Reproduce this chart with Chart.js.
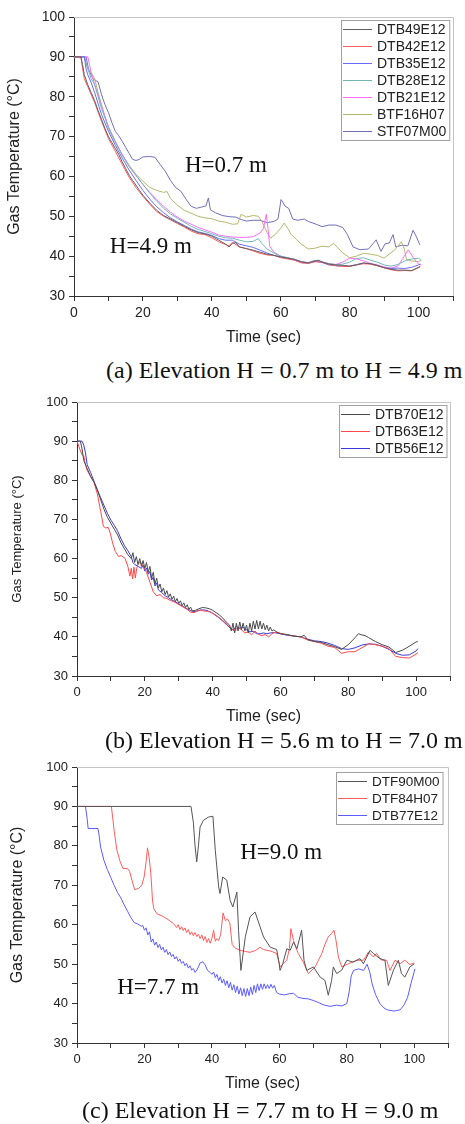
<!DOCTYPE html>
<html>
<head>
<meta charset="utf-8">
<script src="https://cdn.jsdelivr.net/npm/chart.js@4.4.0/dist/chart.umd.min.js"></script>
<style>
  html, body { margin: 0; padding: 0; background: #fff; overflow: hidden; }
  body { width: 465px; height: 1124px; position: relative; }
  canvas { position: absolute; left: 0; }
  .cap { position: absolute; font-family: "Liberation Serif", "Times New Roman", serif; font-size: 24px; line-height: 26px; color: #111; white-space: nowrap; z-index: 2; }
</style>
</head>
<body>
<canvas id="chartA" width="465" height="352" style="top:0px"></canvas>
<div class="cap" style="left:106px;top:357px">(a) Elevation H = 0.7 m to H = 4.9 m</div>
<canvas id="chartB" width="465" height="350" style="top:385px"></canvas>
<div class="cap" style="left:105px;top:727px">(b) Elevation H = 5.6 m to H = 7.0 m</div>
<canvas id="chartC" width="465" height="350" style="top:750px"></canvas>
<div class="cap" style="left:82px;top:1097px">(c) Elevation H = 7.7 m to H = 9.0 m</div>

<script>
// ---- panel (a): H = 0.7 m to 4.9 m  [time s, temperature C]
const labelsA = ["DTB49E12", "DTB42E12", "DTB35E12", "DTB28E12", "DTB21E12", "BTF16H07", "STF07M00"];
const dtb49 = [[0,90],[2,90],[2.5,88],[3,85.5],[4,83],[5,81],[6,79],[7,76.5],[8,74.3],[9,72],[10,70],[11,68.5],[12,67],[13,65.5],[14,63.6],[15,62],[16,60.3],[17,59],[18,57.8],[19,56.5],[20,55.3],[22,53.3],[24,51.5],[26,50.2],[28,49.3],[30,48.4],[32,47.5],[34,46.6],[36,45.9],[38,45.6],[40,45],[42,44],[44,43],[45,42.3],[46,43.2],[47,43.4],[48,42.3],[50,41.9],[52,41.5],[54,41],[56,40.5],[58,40.2],[60,39.8],[62,39.5],[64,39.2],[66,38.6],[68,38.3],[70,38.8],[71,39],[72,38.5],[74,38],[76,37.8],[78,37.7],[80,37.5],[82,37.8],[84,38.3],[86,38.1],[88,37.7],[90,37.1],[92,36.7],[94,36.5],[96,36.5],[98,36.4],[100,37.2],[100.5,37.4]];
const dtb42 = [[0,90],[2,90],[2.5,87],[3,84.5],[4,82.5],[5,80.5],[6,78.5],[8,73.8],[10,69.5],[12,66.3],[14,63],[16,59.8],[18,57.2],[20,55],[22,53],[24,51.2],[26,50],[28,49.1],[30,48.2],[32,47.3],[34,46.3],[36,45.6],[38,45.4],[40,44.6],[42,43.6],[44,42.9],[45,42.6],[46,43.5],[48,42.3],[50,41.9],[52,41.3],[54,40.7],[56,40.3],[58,40.2],[60,39.6],[62,39.3],[64,39],[66,38.3],[68,38.2],[70,38.6],[72,38.5],[74,37.9],[76,37.6],[78,37.4],[80,37.4],[82,37.8],[84,38.1],[86,38],[88,37.6],[90,37.1],[92,36.6],[94,36.3],[96,36.4],[98,36.3],[100,37.1],[100.5,37.3]];
const dtb35 = [[0,90],[3,90],[3.5,87],[4,85.5],[5,83.5],[6,81],[8,75.5],[10,71.3],[12,67.8],[14,64.6],[16,61.6],[18,59],[20,56.5],[22,54.3],[24,52.4],[26,50.9],[28,49.6],[30,48.6],[32,47.7],[34,46.8],[36,46.1],[38,45.7],[40,45.2],[42,44.4],[44,44],[46,44],[48,43],[50,42.6],[52,42.2],[54,41.5],[56,40.8],[58,40.2],[60,39.8],[62,39.4],[64,39],[66,38.4],[68,38.2],[70,38.7],[72,38.4],[74,37.8],[76,37.6],[78,37.5],[80,37.5],[82,37.9],[84,38.2],[86,38.1],[88,37.6],[90,37.1],[92,36.9],[94,37],[96,36.9],[98,37.2],[100,37.8],[100.5,38]];
const dtb28 = [[0,90],[3,90],[4,87],[5,84.5],[6,83],[7,80],[8,77],[10,72.3],[12,68.6],[14,65.3],[16,62.5],[18,60.3],[20,58],[22,55.8],[24,53.8],[26,52],[28,50.6],[30,49.5],[32,48.5],[34,47.5],[36,46.7],[38,46.2],[40,45.6],[42,45],[44,44.6],[46,44.5],[48,44],[50,43.6],[52,43.7],[53.5,44.4],[54.5,43.2],[56,41.8],[58,40.8],[60,40],[62,39.6],[64,39.2],[66,38.6],[68,38.3],[70,38.9],[72,38.6],[74,38.1],[76,37.9],[78,38],[80,38.5],[82,39.4],[84,39.6],[86,39],[88,38.5],[90,37.8],[92,37.5],[94,37.9],[96,38.8],[98,39.3],[100,39.5],[100.8,38.9]];
const dtb21 = [[0,90],[4,90],[4.5,88],[5,86],[6,83],[7,80.5],[8,77.5],[10,72.5],[12,68.8],[14,65.5],[16,62.6],[18,60.2],[20,58],[22,56],[24,54.2],[26,52.5],[28,51],[30,49.8],[32,48.8],[34,48],[36,47.2],[38,46.6],[40,46],[42,45.3],[44,45],[46,44.8],[48,44.7],[50,44.7],[52,44.9],[54,45.8],[55,47],[55.8,50.5],[56.3,47],[56.8,42.5],[58,41],[60,40],[62,39.6],[64,39.2],[66,38.6],[68,38.4],[70,38.9],[72,38.6],[74,38.1],[76,37.9],[78,38.5],[80,39.5],[82,39.3],[84,38.8],[86,38.2],[88,37.8],[90,37.3],[92,37],[94,37.5],[95.5,39.5],[97,41.6],[98.5,39.6],[100,38],[100.8,37.8]];
const btf16 = [[0,90],[3,90],[3.5,88.5],[4,87],[5,86],[6,84.5],[7,81],[8,78],[10,72],[12,68.5],[14,65.5],[16,62.8],[18,60.5],[20,58.8],[22,57.2],[24,56.5],[26,56],[27,56.2],[28,54.5],[30,52.8],[32,51.5],[34,50.8],[36,50],[38,49.6],[40,49.4],[42,48.8],[44,48.5],[46,48],[47.5,48.1],[48.5,50.5],[50,49.8],[52,50.2],[53.5,50],[54.5,48.8],[56,46],[57,44.5],[58.5,45.5],[60,47],[61,48.3],[62,47],[63,45.5],[64.5,44.2],[66,43],[68,41.8],[70,42],[72,42.5],[74,42.3],[75.3,43.2],[76.5,42.2],[78,40.8],[80,39.6],[82,40],[84,40.7],[86,40.5],[88,40.2],[90,39.5],[91.5,40.5],[93,41.5],[95,43.6],[95.8,42],[96.5,39.2],[98,38.8],[100,38.6],[100.8,39]];
const stf07 = [[0,90],[3.5,90],[4.2,87],[5.5,84.5],[7,83.7],[8,80.5],[9,78],[10,76],[11,73.5],[12,71.3],[13,70.2],[14,68.8],[15,67.3],[16,65.8],[17,64.3],[18,64],[19,64.3],[20,64.9],[22,65],[23.5,64.8],[25,63],[26.5,61.3],[28,59],[29.5,57.2],[31,56.3],[32.5,54.3],[34,52.5],[35.5,52],[37,52.3],[38.3,52.6],[39,54.6],[39.6,51.6],[41,50.9],[43,50.2],[45,49.9],[47,49.8],[48.5,49.2],[50,48.8],[52,49],[54,49],[56,48.4],[58,48.7],[59.2,49.3],[60.1,54.2],[61.3,52.5],[62.3,52],[63.5,49.3],[65,49],[66.8,49.3],[68,48.7],[70,48.1],[72,47.4],[74,47.8],[76,47.8],[78,47.2],[79.3,45.5],[81,42.3],[83,41.6],[85.5,41.8],[87.7,44.1],[89.1,41.2],[90.3,43.1],[91.5,43.3],[92.6,45.4],[93.4,42.3],[95,42.7],[96.9,42.6],[98.4,46.5],[99.3,45],[100.4,42.8]];

// ---- panel (b): H = 5.6 m to 7.0 m
const labelsB = ["DTB70E12", "DTB63E12", "DTB56E12"];
const dtb70 = [[0,90],[1,90],[1.5,88],[2,85],[3,83],[4,81],[5,79.5],[6,77.5],[7,75],[8,72.5],[9,70.5],[10,69],[11,67.5],[12,66],[13,64],[14,62.5],[15,61],[16,60],[16.5,61.5],[17,59],[17.5,60.5],[18,58.5],[18.5,60],[19,58],[19.5,59.5],[20,57.5],[20.5,59],[21,56.5],[21.5,58],[22,55],[22.5,56.5],[23,53.5],[23.5,55],[24,52.5],[24.5,53.5],[25,51.5],[25.5,52.5],[26,50.8],[26.5,51.8],[27,50.2],[27.5,51],[28,49.6],[28.5,50.4],[29,49],[29.5,49.8],[30,48.5],[30.5,49.2],[31,48],[31.5,48.7],[32,47.5],[32.5,48.2],[33,47],[33.5,47.6],[34,46.6],[35,46.8],[36,47.2],[37,47.5],[38,47.4],[39,47.2],[40,46.8],[41,46.2],[42,45.6],[43,44.8],[44,43.8],[45,43],[45.5,41.5],[46,43.5],[46.5,41],[47,43.5],[47.5,41.5],[48,43.8],[48.5,41.8],[49,43.5],[49.5,41.5],[50,43],[50.5,41],[51,43.5],[51.5,41.5],[52,44],[52.5,42],[53,44.2],[53.5,42],[54,44],[54.5,42],[55,43.5],[55.5,41.8],[56,43],[56.5,41.5],[57,42.5],[57.5,41.5],[58,41.8],[59,41.2],[60,40.8],[62,40.6],[64,40.2],[66,40],[67,40.4],[68,39.3],[70,38.8],[72,38.6],[74,38],[76,37.5],[78,36.8],[80,38],[82,39.8],[83,40.8],[84,40.5],[85,40.3],[86,39.8],[88,38.8],[90,38],[92,37.4],[94,36],[96,36.6],[98,37.6],[100,38.7],[100.5,38.8]];
const dtb63 = [[0,90],[0.8,88],[1.5,86.5],[2,86.2],[2.5,84],[3,82.5],[4,81],[5,79.5],[6,76.5],[7,72],[7.8,68.2],[8.5,67.8],[9.2,68],[9.8,66.5],[10.5,64],[11.3,61.8],[12.3,60.5],[13,60.8],[14.2,60],[15,58],[15.6,55.5],[16,57.5],[16.4,54.8],[16.8,57.8],[17.2,55],[17.6,57.5],[18,58.5],[18.7,59.2],[19.5,58],[20.5,56.5],[21.5,54],[22.5,51.5],[23.5,50.5],[24.5,50.8],[25.5,50],[26.5,49.8],[27.5,49.3],[28.5,49],[29.5,48.5],[30.5,48],[31.5,47.5],[32.5,47],[33.5,46.3],[34.5,46.2],[35.5,46.6],[36.5,46.8],[37.5,46.6],[38.5,46.5],[39.5,46.3],[40.5,45.8],[41.5,45.2],[42.5,44.5],[43.5,43.8],[44.5,43],[45.5,42],[46.5,41.5],[47.5,42.5],[48.5,41.8],[49.5,41],[50.5,41.3],[51.5,40.5],[52.5,41.5],[53.5,40.6],[54.5,40.3],[55.5,40.6],[56.5,40],[57.5,40.8],[58.5,41.2],[60,40.9],[62,40.5],[64,40.2],[66,40],[68,39.2],[70,38.8],[72,38.4],[74,37.6],[76,37.3],[78,35.8],[80,36.2],[82,36.2],[84,37.2],[86,38.2],[88,38],[90,37.6],[92,37],[94,35],[96,34.7],[98,34.6],[100,35.6],[100.5,35.9]];
const dtb56 = [[0,90],[1.5,90],[2,89],[2.5,87],[3,84],[4,82],[5,79.8],[6,77.6],[7,75.5],[8,73.5],[9,71.5],[10,69.8],[11,68.5],[12,67],[13,65],[14,63.3],[15,62],[16,60.5],[16.5,59],[17,58.5],[18,58],[19,57.5],[19.5,58.3],[20,56.8],[20.5,57.6],[21,56],[21.5,56.7],[22,54.5],[22.5,55.2],[23,53],[23.5,53.8],[24,52],[25,51.3],[26,50.5],[27,50],[28,49.4],[29,49],[30,48.4],[31,47.9],[32,47.4],[33,46.9],[34,46.5],[35,46.5],[36,46.8],[37,46.9],[38,46.8],[39,46.5],[40,46],[41,45.4],[42,44.8],[43,44],[44,43.2],[45,42.4],[46,41.8],[47,42.6],[48,42.2],[49,42.5],[50,41.8],[51,41.3],[52,41.4],[53,40.8],[54,40.8],[55,41],[56,40.8],[57,41],[58,41.1],[60,40.8],[62,40.4],[64,40.2],[66,40],[68,39.4],[70,39],[72,38.8],[74,38.4],[76,37.8],[78,37],[80,36.8],[82,37.2],[84,37.9],[86,38.2],[88,38.1],[90,37.6],[92,36.8],[94,35.8],[96,35.3],[98,35.4],[100,36.4],[100.5,37]];

// ---- panel (c): H = 7.7 m to 9.0 m
const labelsC = ["DTF90M00", "DTF84H07", "DTB77E12"];
const dtf90 = [[0,90],[33.8,90],[34.5,86],[35,80],[35.5,75.9],[36,80],[36.5,84.8],[37.5,86.5],[39,87.3],[40.3,87.5],[41,78.9],[42,69.6],[42.4,67.9],[43.2,72.1],[44.4,71.3],[45.4,66.2],[46.2,64.5],[47,67],[47.4,68.3],[47.9,58.6],[48.6,48.4],[49.9,56.9],[51.3,62],[52.8,63.2],[53.8,60.7],[55.3,56.9],[57.3,54.3],[59.2,53.7],[59.9,50.5],[60.2,48.4],[61,50.1],[62.2,53.9],[63.2,53.5],[64.2,55.6],[65.2,53.9],[66.6,58.6],[67.3,51],[68.1,48.4],[70.1,49.3],[72.1,46.7],[73.5,45.9],[74.5,42.1],[75.5,45.9],[76,49.3],[77,47.6],[78.5,48.5],[80,51],[81.9,50.5],[83.9,51.4],[84.9,50.1],[86.9,53.5],[87.9,52.7],[89.8,51.4],[91.3,51],[92.3,44.6],[93.8,48.4],[95.3,51],[96.2,47.6],[97.2,46.7],[98.7,49.3],[100,50.1]];
const dtf84 = [[0,90],[10.2,90],[11,84],[11.8,79],[12.8,76],[13.6,74.3],[15,74.2],[15.6,73.5],[16.3,71.3],[17.1,68.9],[18.2,69.2],[19.2,70],[19.9,72.1],[20.5,76],[20.9,79.5],[21.4,77],[21.9,72.9],[22.4,66],[22.8,64],[23.7,62.8],[25.7,62],[27,61.3],[28.6,60.3],[29.5,59.3],[30,60],[30.5,58.8],[31,59.5],[31.5,58.5],[32,59.2],[32.5,58],[33,58.8],[33.5,57.5],[34,58.2],[34.5,57.2],[35,58],[35.5,57],[36,57.6],[36.5,56.5],[37,57.4],[37.5,56],[38,57],[38.5,55.5],[39,56.5],[39.5,55.3],[40,56.5],[40.5,58.6],[41,55.8],[41.5,56.5],[42,56],[42.6,57.5],[43.3,63],[44,61],[44.6,61.5],[45.3,60.5],[46,55],[47,54],[48.4,53.5],[50,53.2],[51.3,53],[53,53.5],[54.3,54.3],[55.3,53.7],[56.3,53.5],[57.5,53.3],[59.2,52.7],[60.2,49.3],[61,50],[62.2,51],[63,54],[63.4,59],[64.2,56],[65,54],[65.6,52.7],[67.1,50.5],[68.6,47.6],[70.6,49.3],[71.6,51],[72.6,52.7],[73.5,55],[74.5,56.9],[75.5,57.8],[76.2,58.6],[76.8,56],[77.5,51.8],[78.5,49.3],[80.5,50.1],[82.9,51],[84.9,51],[85.7,52],[86.4,53.1],[87.9,51.8],[88.8,52.7],[90.3,51],[91.8,51],[92.8,48.4],[94.3,51],[95.8,50.1],[97.2,51],[98.7,49.9],[100,50.3]];
const dtb77 = [[0,90],[2.5,90],[3,87],[3.3,84.4],[6.2,84.4],[6.5,83],[7,79.7],[8,76.3],[9,74],[10,72],[11,70],[12,68.2],[13,66.8],[14,65],[15,63.4],[16,61.8],[17,60.5],[18,60.2],[19,59.6],[19.5,59.8],[20,58.6],[20.5,59.2],[21,57.4],[21.5,58.2],[22,55.6],[22.5,56.4],[23,54.8],[23.5,55.6],[24,54.2],[24.5,55],[25,53.6],[25.5,54.3],[26,53],[26.5,53.7],[27,52.4],[27.5,53.1],[28,51.9],[28.5,52.5],[29,51.3],[29.5,51.9],[30,50.7],[30.5,51.3],[31,50.2],[31.5,50.7],[32,49.6],[32.5,50.2],[33,49],[33.5,49.6],[34,48.5],[34.5,48.9],[35,47.9],[35.5,48.5],[36,49.3],[36.5,50.3],[37.3,50.6],[38,49.8],[38.7,48.4],[39.5,47.9],[40,47.4],[40.5,48],[41,46.6],[41.5,47.4],[42,45.8],[42.5,46.8],[43,45.2],[43.5,46.2],[44,44.6],[44.5,45.8],[45,44],[45.5,45.4],[46,43.4],[46.5,44.8],[47,42.8],[47.5,44.4],[48,42.4],[48.5,44],[49,42],[49.5,43.8],[50,41.8],[50.5,43.8],[51,42],[51.5,44.2],[52,42.3],[52.5,44.6],[53,42.8],[53.5,45],[54,43.3],[54.5,45],[55,43.6],[55.5,45],[56,43.8],[56.5,44.8],[57,43.8],[57.5,44.9],[58,43.9],[58.5,44.6],[59.2,42.8],[60,42.4],[61.5,42.2],[63,42.5],[64.2,42.6],[65.5,41.6],[67,41.3],[68.5,41.2],[70,40.8],[71.5,40.3],[73,39.7],[75,39.3],[77,39.6],[78.5,39.4],[80,40],[80.7,43],[81.3,47],[82,48.4],[83.5,48.8],[85,48.4],[86,50],[86.8,48],[87.5,45],[88.5,42.3],[89.8,40],[91,38.9],[92,38.4],[94,38.1],[95.8,38.4],[97,39.7],[98,41.5],[99,45],[100.2,48.8]];

const pts = arr => arr.map(([x, y]) => ({ x, y }));

function line(label, data, color) {
  return { label, data: pts(data), borderColor: color, borderWidth: 1, pointRadius: 0, tension: 0, fill: false };
}

// legend box inside the plot, top right
function boxLegend(cfg) {
  return {
    id: "boxLegend",
    afterDraw(chart) {
      const ctx = chart.ctx, a = chart.chartArea;
      const sets = chart.data.datasets;
      ctx.save();
      ctx.font = cfg.size + "px 'Liberation Sans', Arial, sans-serif";
      const textW = Math.max(...sets.map(d => ctx.measureText(d.label).width));
      const w = 2 + cfg.line + 5 + textW + 3;
      const h = sets.length * cfg.gap + 1;
      const x0 = Math.round(a.right - cfg.dx - w), y0 = Math.round(a.top + cfg.dy);
      ctx.fillStyle = "#fff";
      ctx.fillRect(x0, y0, w, h);
      ctx.strokeStyle = "#a0a0a0";
      ctx.lineWidth = 1;
      ctx.strokeRect(x0 + 0.5, y0 + 0.5, w, h);
      sets.forEach((d, i) => {
        const yy = y0 + cfg.gap * i + cfg.gap / 2 + 0.5;
        ctx.strokeStyle = d.borderColor;
        ctx.beginPath();
        ctx.moveTo(x0 + 2, Math.round(yy) + 0.5);
        ctx.lineTo(x0 + 2 + cfg.line, Math.round(yy) + 0.5);
        ctx.stroke();
        ctx.fillStyle = "#222";
        ctx.textBaseline = "middle";
        ctx.fillText(d.label, x0 + 2 + cfg.line + 5, yy + 1);
      });
      ctx.restore();
    }
  };
}

// height labels placed in data space
function notes(list) {
  return {
    id: "notes",
    afterDatasetsDraw(chart) {
      const ctx = chart.ctx, xs = chart.scales.x, ys = chart.scales.y;
      ctx.save();
      ctx.font = "23px 'Liberation Serif', 'Times New Roman', serif";
      ctx.fillStyle = "#111";
      ctx.textBaseline = "middle";
      list.forEach(n => ctx.fillText(n.text, xs.getPixelForValue(n.x), ys.getPixelForValue(n.y)));
      ctx.restore();
    }
  };
}

// light grey top and right frame
const frame = {
  id: "frame",
  beforeDatasetsDraw(chart) {
    const ctx = chart.ctx, a = chart.chartArea;
    ctx.save();
    ctx.strokeStyle = "#c4c4c4";
    ctx.lineWidth = 1;
    ctx.beginPath();
    ctx.moveTo(a.left, Math.round(a.top) + 0.5);
    ctx.lineTo(Math.round(a.right) + 0.5, Math.round(a.top) + 0.5);
    ctx.lineTo(Math.round(a.right) + 0.5, a.bottom);
    ctx.stroke();
    ctx.restore();
  }
};

function makeChart(id, datasets, p) {
  const font = size => ({ family: "'Liberation Sans', Arial, sans-serif", size });
  return new Chart(document.getElementById(id), {
    type: "line",
    data: { datasets },
    options: {
      responsive: false,
      animation: false,
      parsing: true,
      layout: { padding: { top: p.top, right: p.right, bottom: p.bottom, left: 0 } },
      plugins: { legend: { display: false }, tooltip: { enabled: false } },
      scales: {
        x: {
          type: "linear", min: 0, max: 110,
          afterFit: s => { s.height = p.xHeight; },
          border: { color: "#333", width: 1 },
          grid: { drawOnChartArea: false, tickLength: 5, tickColor: "#333" },
          ticks: {
            stepSize: 10, autoSkip: false, maxRotation: 0, padding: 4, color: "#222", font: font(p.tick),
            callback: v => (v % 20 === 0 && v <= 100) ? v : ""
          },
          title: { display: true, text: "Time (sec)", color: "#222", font: font(16), padding: { top: 4, bottom: 4 } }
        },
        y: {
          min: 30, max: 100,
          afterFit: s => { s.width = p.yWidth; },
          border: { color: "#333", width: 1 },
          grid: { drawOnChartArea: false, tickLength: 5, tickColor: "#333" },
          ticks: {
            stepSize: 5, autoSkip: false, padding: 4, color: "#222", font: font(p.tick),
            callback: v => v % 10 === 0 ? v : ""
          },
          title: { display: true, text: "Gas Temperature (°C)", color: "#222", font: font(p.yTitle), padding: { top: p.yTitlePad, bottom: 0 } }
        }
      }
    },
    plugins: [frame, notes(p.notes), boxLegend(p.legend)]
  });
}

makeChart("chartA", [
  line(labelsA[0], dtb49, "#606060"),
  line(labelsA[1], dtb42, "#ff5c5c"),
  line(labelsA[2], dtb35, "#6a6aff"),
  line(labelsA[3], dtb28, "#70b8b8"),
  line(labelsA[4], dtb21, "#ff6cff"),
  line(labelsA[5], btf16, "#b6b66c"),
  line(labelsA[6], stf07, "#7070b8")
], {
  top: 17, right: 12, bottom: 1, xHeight: 55, yWidth: 74, tick: 14, yTitle: 16, yTitlePad: 5,
  legend: { size: 14, line: 29, gap: 17, dx: 4, dy: 3 },
  notes: [{ text: "H=0.7 m", x: 32.2, y: 62.6 }, { text: "H=4.9 m", x: 10.4, y: 42.3 }]
});

makeChart("chartB", [
  line(labelsB[0], dtb70, "#4a4a4a"),
  line(labelsB[1], dtb63, "#ff4848"),
  line(labelsB[2], dtb56, "#3a3ad8")
], {
  top: 17, right: 15, bottom: 5, xHeight: 54, yWidth: 77, tick: 13, yTitle: 13, yTitlePad: 10,
  legend: { size: 14, line: 29, gap: 17, dx: 4, dy: 3 },
  notes: []
});

makeChart("chartC", [
  line(labelsC[0], dtf90, "#555555"),
  line(labelsC[1], dtf84, "#ff5c5c"),
  line(labelsC[2], dtb77, "#5c5cff")
], {
  top: 17, right: 17, bottom: 3, xHeight: 54, yWidth: 77, tick: 13, yTitle: 16, yTitlePad: 8,
  legend: { size: 13.5, line: 29, gap: 17, dx: 5, dy: 5 },
  notes: [{ text: "H=9.0 m", x: 48.4, y: 78.2 }, { text: "H=7.7 m", x: 11.9, y: 43.9 }]
});
</script>
</body>
</html>
